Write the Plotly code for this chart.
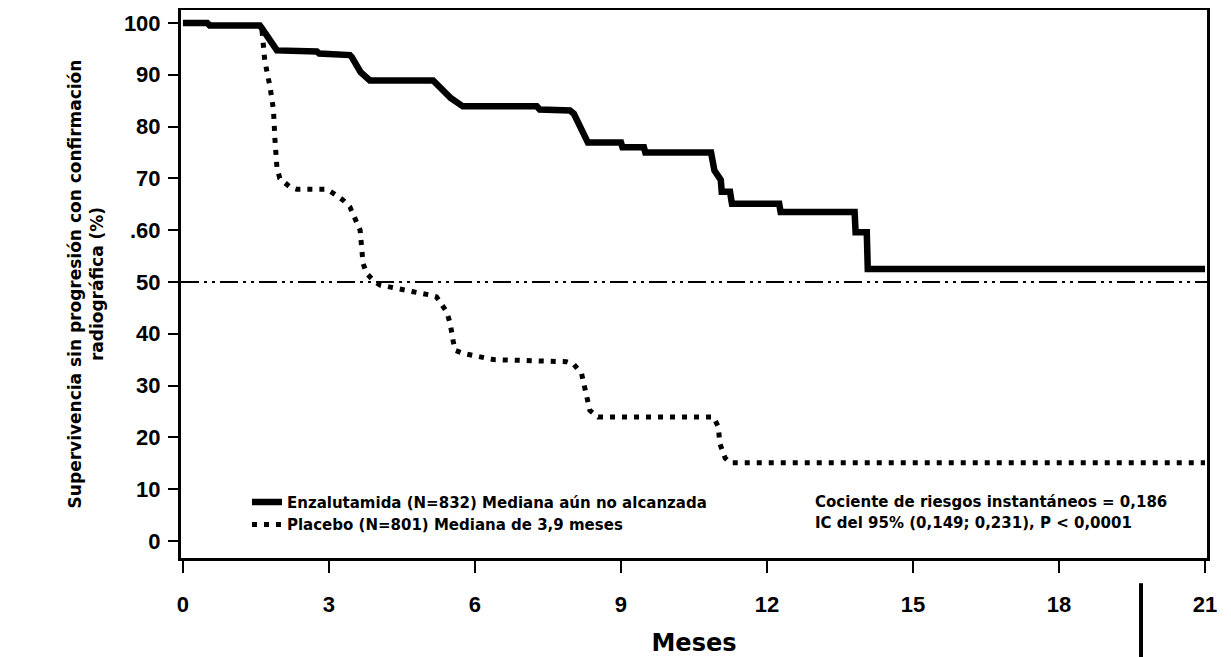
import plotly.graph_objects as go

# ---- Data ----
enza_months = [0, 0.5, 0.55, 1.58, 1.62, 1.75, 1.93, 2.75, 2.8, 3.43, 3.47, 3.65, 3.84,
               5.14, 5.2, 5.5, 5.75, 7.27, 7.33, 7.95, 8.03, 8.32, 9.0, 9.03, 9.47, 9.5,
               10.85, 10.92, 11.05, 11.07, 11.24, 11.28, 12.25, 12.28, 13.8, 13.82, 14.05,
               14.07, 21.0]
enza_surv = [100, 100, 99.5, 99.5, 99.0, 97.0, 94.7, 94.5, 94.1, 93.8, 93.4, 90.5, 88.9,
             88.9, 88.3, 85.5, 83.9, 83.9, 83.3, 83.1, 82.5, 76.9, 76.9, 76.0, 76.0, 75.0,
             75.0, 71.5, 69.7, 67.4, 67.4, 65.1, 65.1, 63.5, 63.5, 59.6, 59.6,
             52.5, 52.5]

plac_months = [0, 0.5, 0.55, 1.58, 1.62, 1.68, 1.79, 1.86, 1.89, 1.93, 1.99, 2.2, 2.34,
               2.95, 3.09, 3.29, 3.43, 3.53, 3.64, 3.67, 3.70, 3.77, 3.91, 4.05, 4.32,
               4.73, 5.07, 5.21, 5.42, 5.49, 5.55, 5.59, 5.76, 6.38, 7.88, 8.02, 8.19,
               8.29, 8.36, 8.53, 10.9, 11.0, 11.03, 11.14, 11.24, 21.0]
plac_surv = [100, 100, 99.5, 99.5, 99.0, 92.8, 87.6, 83.2, 77.5, 72.2, 70.0, 68.3, 67.9,
             67.9, 67.1, 65.8, 64.5, 62.5, 60.0, 56.8, 53.6, 51.7, 50.3, 49.4, 48.8,
             48.1, 47.5, 47.1, 44.2, 42.0, 38.7, 36.8, 36.2, 35.0, 34.6, 34.2, 32.3,
             28.5, 25.2, 23.9, 23.9, 22.0, 18.8, 16.0, 15.1, 15.1]

series_names = ["Enzalutamida (N=832) Mediana aún no alcanzada",
                "Placebo (N=801) Mediana de 3,9 meses"]
x_ticks = [0, 3, 6, 9, 12, 15, 18, 21]
x_tick_labels = ["0", "3", "6", "9", "12", "15", "18", "21"]
y_ticks = [0, 10, 20, 30, 40, 50, 60, 70, 80, 90, 100]
y_tick_labels = ["0", "10", "20", "30", "40", "50", ".60", "70", "80", "90", "100"]
median_level = 50
stats_lines = ["Cociente de riesgos instantáneos = 0,186",
               "IC del 95% (0,149; 0,231), P < 0,0001"]
x_title = "Meses"
y_title = "Supervivencia sin progresión con confirmación<br>radiográfica (%)"

FONT = "Liberation Sans, Arial, sans-serif"
WIDE = "DejaVu Sans, Verdana, sans-serif"

fig = go.Figure()
fig.add_trace(go.Scatter(
    x=enza_months, y=enza_surv, mode="lines", name=series_names[0],
    line=dict(color="black", width=6.5), legendgroup="a"))
fig.add_trace(go.Scatter(
    x=plac_months, y=plac_surv, mode="lines", name=series_names[1],
    line=dict(color="black", width=5, dash="5px,7px"), legendgroup="b"))

fig.add_hline(y=median_level, line=dict(color="black", width=2,
                                        dash="18px,5px,3px,5px,3px,5px"))

for txt, yv in zip(stats_lines, [7.5, 3.4]):
    fig.add_annotation(x=12.94, y=yv, xref="x", yref="y", text=txt,
                       showarrow=False, xanchor="left", yanchor="middle",
                       font=dict(family=WIDE, size=15, color="black", weight="bold"))

# scan artefact: vertical bar below the axis
fig.add_shape(type="line", xref="paper", yref="paper", x0=0.9357, x1=0.9357,
              y0=-0.046, y1=-0.185, line=dict(color="black", width=4))

# the page body adds an 8px offset, so the figure is 8px smaller and margins shifted
fig.update_layout(
    width=1223, height=649,
    margin=dict(l=173, r=24, t=2, b=99, autoexpand=False),
    paper_bgcolor="white", plot_bgcolor="white",
    font=dict(family=FONT, color="black"),
    showlegend=True,
    legend=dict(x=0.0643, y=0.132, xanchor="left", yanchor="top",
                bgcolor="rgba(0,0,0,0)", borderwidth=0,
                font=dict(family=WIDE, size=15, color="black", weight="bold"),
                tracegroupgap=1, traceorder="normal"),
    xaxis=dict(range=[-0.04, 21.04], tickmode="array", tickvals=x_ticks,
               ticktext=x_tick_labels, ticks="outside", ticklen=12, tickwidth=2,
               tickcolor="black", showline=True, linecolor="black", linewidth=3,
               mirror=True, showgrid=False, zeroline=False, automargin=False,
               ticklabelstandoff=13,
               tickfont=dict(family=FONT, size=22, color="black", weight="bold"),
               title=dict(text=x_title, standoff=25,
                          font=dict(family=WIDE, size=24, color="black", weight="bold"))),
    yaxis=dict(range=[-3.3, 102.5], tickmode="array", tickvals=y_ticks,
               ticktext=y_tick_labels, ticks="outside", ticklen=10, tickwidth=2,
               tickcolor="black", showline=True, linecolor="black", linewidth=3,
               mirror=True, showgrid=False, zeroline=False, automargin=False,
               ticklabelstandoff=3,
               tickfont=dict(family=FONT, size=22, color="black", weight="bold"),
               title=dict(text=y_title, standoff=16,
                          font=dict(family=WIDE, size=17, color="black", weight="bold"))),
)

fig.write_html("out.html")
